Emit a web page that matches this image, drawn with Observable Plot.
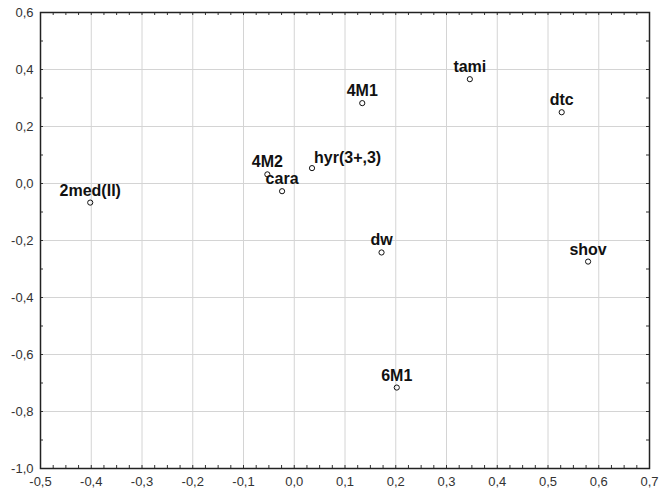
<!DOCTYPE html>
<html><head><meta charset="utf-8">
<script src="https://cdn.jsdelivr.net/npm/d3@7"></script>
<script src="https://cdn.jsdelivr.net/npm/@observablehq/plot@0.6"></script>
<style>body{margin:0;background:#fff}svg{display:block}</style>
</head><body><div id="chart"></div>
<script>
const labels = ["2med(II)", "4M2", "cara", "hyr(3+,3)", "4M1", "tami", "dtc", "dw", "shov", "6M1"];
const xValues = [-0.402, -0.053, -0.024, 0.035, 0.134, 0.346, 0.527, 0.172, 0.579, 0.202];
const yValues = [-0.067, 0.032, -0.027, 0.054, 0.282, 0.366, 0.250, -0.242, -0.274, -0.716];
const xTicks = [-0.5, -0.4, -0.3, -0.2, -0.1, 0.0, 0.1, 0.2, 0.3, 0.4, 0.5, 0.6, 0.7];
const yTicks = [-1.0, -0.8, -0.6, -0.4, -0.2, 0.0, 0.2, 0.4, 0.6];
const xDomain = [-0.5, 0.7];
const yDomain = [-1.0, 0.6];
const xMinor = d3.range(0, 49).map(i => -0.5 + i * 0.025);
const yMinor = d3.range(0, 17).map(i => -1.0 + i * 0.1);

const data = labels.map((name, i) => ({name, x: xValues[i], y: yValues[i]}));
const fmt = d => d.toFixed(1).replace(".", ",");

const tickLen = 3;
const chart = Plot.plot({
  width: 661,
  height: 497,
  marginLeft: 40,
  marginTop: 12,
  marginRight: 12,
  marginBottom: 29,
  style: {background: "#fff", fontFamily: "'Liberation Sans', Arial, sans-serif", fontSize: "13px"},
  x: {domain: xDomain, label: null},
  y: {domain: yDomain, label: null},
  marks: [
    Plot.gridX(xTicks, {stroke: "#d4d4d4", strokeOpacity: 1, strokeWidth: 1}),
    Plot.gridY(yTicks, {stroke: "#d4d4d4", strokeOpacity: 1, strokeWidth: 1}),
    Plot.axisX({ticks: xTicks, tickSize: 0, tickPadding: 8, tickFormat: fmt, fontSize: 13, fill: "#333", label: null}),
    Plot.axisY({ticks: yTicks, tickSize: 0, tickPadding: 7, tickFormat: fmt, fontSize: 13, fill: "#333", label: null}),
    // inward minor ticks on all four sides
    Plot.ruleX(xMinor, {x: d => d, y1: yDomain[0], y2: yDomain[0], insetTop: -tickLen, stroke: "#333"}),
    Plot.ruleX(xMinor, {x: d => d, y1: yDomain[1], y2: yDomain[1], insetBottom: -tickLen, stroke: "#333"}),
    Plot.ruleY(yMinor, {y: d => d, x1: xDomain[0], x2: xDomain[0], insetRight: -tickLen, stroke: "#333"}),
    Plot.ruleY(yMinor, {y: d => d, x1: xDomain[1], x2: xDomain[1], insetLeft: -tickLen, stroke: "#333"}),
    Plot.frame({stroke: "#222", strokeWidth: 1.5}),
    Plot.dot(data, {x: "x", y: "y", r: 2.6, stroke: "#111", strokeWidth: 1, fill: "none"}),
    Plot.text(data.filter(d => d.name !== "hyr(3+,3)"), {x: "x", y: "y", text: "name", dy: -7, lineAnchor: "bottom", fontSize: 16, fontWeight: "bold", fill: "#111"}),
    Plot.text(data.filter(d => d.name === "hyr(3+,3)"), {x: "x", y: "y", text: "name", dx: 2, dy: -5, lineAnchor: "bottom", textAnchor: "start", fontSize: 16, fontWeight: "bold", fill: "#111"})
  ]
});
document.getElementById("chart").appendChild(chart);
</script>
</body></html>
